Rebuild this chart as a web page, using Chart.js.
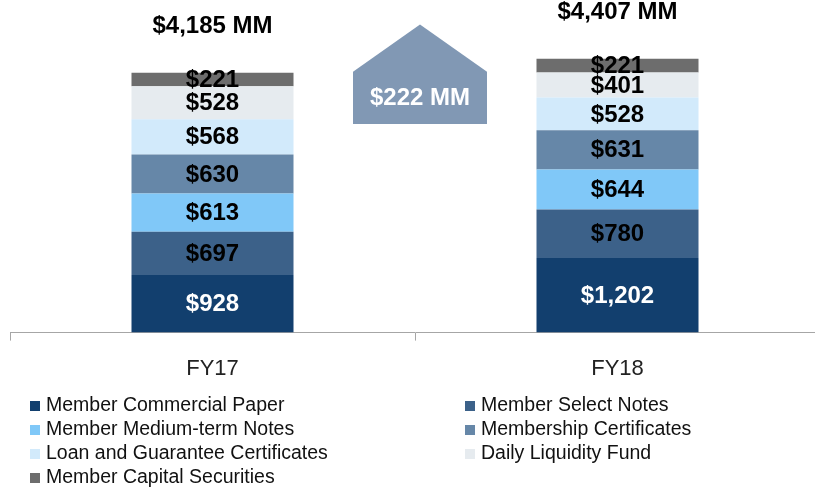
<!DOCTYPE html>
<html>
<head>
<meta charset="utf-8">
<script src="https://cdn.jsdelivr.net/npm/chart.js@4"></script>
<style>
  html, body { margin: 0; padding: 0; background: #fff; overflow: hidden; }
  #wrap { width: 820px; height: 490px; }
</style>
</head>
<body>
<div id="wrap"><canvas id="chart" width="820" height="490"></canvas></div>
<script>
// ----- Data -----
const categories = ['FY17', 'FY18'];
const seriesNames = [
    'Member Commercial Paper',
    'Member Select Notes',
    'Member Medium-term Notes',
    'Membership Certificates',
    'Loan and Guarantee Certificates',
    'Daily Liquidity Fund',
    'Member Capital Securities'
];
const commercialPaper = [928, 1202];
const selectNotes = [697, 780];
const mediumTermNotes = [613, 644];
const membershipCerts = [630, 631];
const loanGuaranteeCerts = [568, 528];
const dailyLiquidity = [528, 401];
const capitalSecurities = [221, 221];
const totalLabels = ['$4,185 MM', '$4,407 MM'];
const changeLabel = '$222 MM';

const seriesValues = [commercialPaper, selectNotes, mediumTermNotes, membershipCerts,
    loanGuaranteeCerts, dailyLiquidity, capitalSecurities];
const colors = ['#123f6e', '#3c6189', '#80c8f8', '#6687a8', '#d2eafb', '#e6ebef', '#6d6d6d'];
const labelColors = ['#ffffff', '#000', '#000', '#000', '#000', '#000', '#000'];

const FONT = "'Liberation Sans', Arial, sans-serif";

// ----- Plugins -----
const segmentLabels = {
    id: 'segmentLabels',
    afterDatasetsDraw(chart) {
        const c = chart.ctx;
        c.save();
        c.font = `bold 24px ${FONT}`;
        c.textAlign = 'center';
        c.textBaseline = 'middle';
        chart.data.datasets.forEach((ds, i) => {
            chart.getDatasetMeta(i).data.forEach((bar, j) => {
                const v = ds.data[j];
                const txt = '$' + v.toLocaleString('en-US');
                c.fillStyle = labelColors[i];
                c.fillText(txt, bar.x, (bar.y + bar.base) / 2 + 1);
            });
        });
        // totals above bars
        const x = chart.scales.x, y = chart.scales.y;
        categories.forEach((cat, j) => {
            let sum = 0;
            seriesValues.forEach(s => sum += s[j]);
            c.fillStyle = '#000';
            c.fillText(totalLabels[j], x.getPixelForValue(j), y.getPixelForValue(sum) - 46);
        });
        // change arrow between bars
        const cx = (x.getPixelForValue(0) + x.getPixelForValue(1)) / 2 + 5;
        const half = 67;
        const apex = y.getPixelForValue(4960);
        const shoulder = y.getPixelForValue(4200);
        const bottom = y.getPixelForValue(3360);
        c.fillStyle = '#8198b4';
        c.beginPath();
        c.moveTo(cx, apex);
        c.lineTo(cx + half, shoulder);
        c.lineTo(cx + half, bottom);
        c.lineTo(cx - half, bottom);
        c.lineTo(cx - half, shoulder);
        c.closePath();
        c.fill();
        c.fillStyle = '#fff';
        c.fillText(changeLabel, cx, (shoulder + bottom) / 2 + 1);
        c.restore();
    }
};

const columnLegend = {
    id: 'columnLegend',
    afterDraw(chart) {
        const c = chart.ctx;
        c.save();
        c.font = `19.5px ${FONT}`;
        c.textBaseline = 'middle';
        c.textAlign = 'left';
        const colX = [30, 465];
        chart.data.datasets.forEach((ds, i) => {
            const col = i % 2, row = Math.floor(i / 2);
            const lx = colX[col], ly = 406 + row * 24;
            c.fillStyle = ds.backgroundColor;
            c.fillRect(lx, ly - 5, 10, 10);
            c.fillStyle = '#111';
            c.fillText(ds.label, lx + 16, ly);
        });
        c.restore();
    }
};

// ----- Chart -----
const ctx = document.getElementById('chart').getContext('2d');
new Chart(ctx, {
    type: 'bar',
    data: {
        labels: categories,
        datasets: seriesNames.map((name, i) => ({
            label: name,
            data: seriesValues[i],
            backgroundColor: colors[i],
            borderWidth: 0,
            barPercentage: 0.4,
            categoryPercentage: 1.0,
        }))
    },
    options: {
        responsive: false,
        animation: false,
        layout: { padding: { top: 22, left: 10, right: 0, bottom: 93 } },
        plugins: {
            legend: { display: false },
            tooltip: { enabled: false },
        },
        scales: {
            x: {
                stacked: true,
                grid: {
                    offset: true,
                    drawOnChartArea: false,
                    color: '#a6a6a6',
                    tickLength: 8,
                },
                border: { display: true, color: '#a6a6a6', width: 1 },
                ticks: {
                    color: '#222',
                    font: { family: FONT, size: 22 },
                    padding: 15,
                },
            },
            y: {
                stacked: true,
                display: false,
                min: 0,
                max: 5000,
            }
        }
    },
    plugins: [segmentLabels, columnLegend]
});
</script>
</body>
</html>
